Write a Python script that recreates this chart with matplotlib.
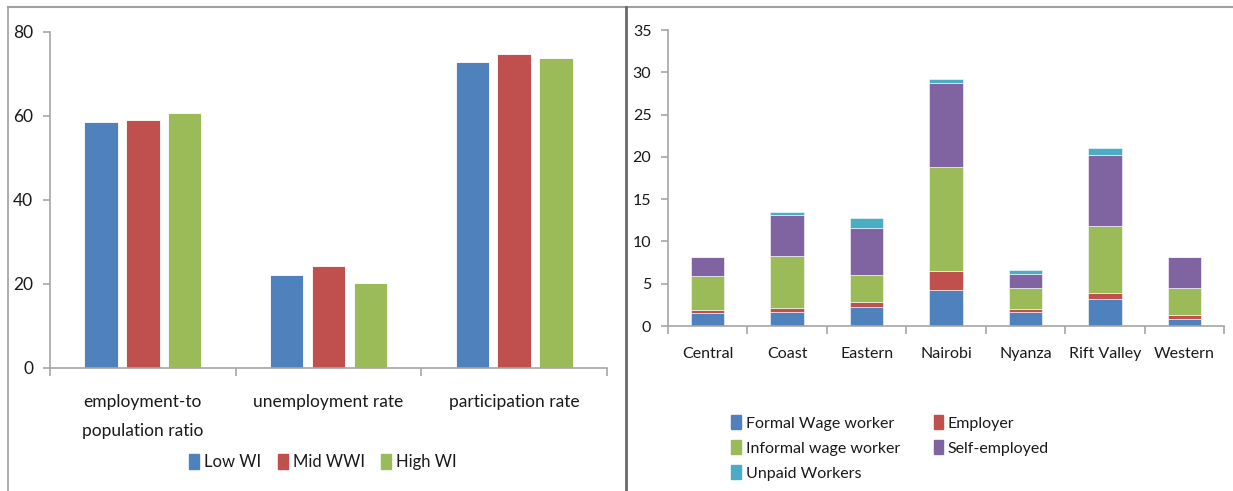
import matplotlib
matplotlib.use("Agg")
import matplotlib.pyplot as plt
import numpy as np
from matplotlib.lines import Line2D
from matplotlib.patches import Patch

plt.rcParams['font.family'] = ['Lato', 'DejaVu Sans']

# Labour market indicators by wealth index group
indicators = ["employment-to\npopulation ratio", "unemployment rate", "participation rate"]
wealth_groups = ["Low WI", "Mid WWI", "High WI"]
low_wi = [58.5, 22.2, 72.9]
mid_wi = [59.1, 24.4, 74.7]
high_wi = [60.6, 20.2, 73.9]

# Employment status by province (stacked)
provinces = ["Central", "Coast", "Eastern", "Nairobi", "Nyanza", "Rift Valley", "Western"]
formal_wage = [1.5, 1.65, 2.2, 4.25, 1.65, 3.25, 0.8]
employer = [0.4, 0.5, 0.65, 2.3, 0.35, 0.6, 0.5]
informal_wage = [4.0, 6.15, 3.15, 12.2, 2.55, 8.0, 3.15]
self_employed = [2.2, 4.8, 5.6, 9.95, 1.55, 8.35, 3.65]
unpaid = [0.08, 0.35, 1.2, 0.5, 0.55, 0.8, 0.1]

BLUE, RED, GREEN, PURPLE, CYAN = "#4F81BD", "#C0504D", "#9BBB59", "#8064A2", "#4BACC6"
AXIS_C = "#a6a6a6"
TEXT_C = "#1a1a1a"

W, H = 1233, 491
fig = plt.figure(figsize=(W / 100, H / 100), dpi=100)


def px_axes(x0, y0, x1, y1):
    return fig.add_axes([x0 / W, 1 - y1 / H, (x1 - x0) / W, (y1 - y0) / H])


def style(ax):
    for s in ("top", "right"):
        ax.spines[s].set_visible(False)
    for s in ("left", "bottom"):
        ax.spines[s].set_color(AXIS_C)
        ax.spines[s].set_linewidth(1.2)
    ax.tick_params(axis="y", colors=AXIS_C, length=5, width=1.2, labelcolor=TEXT_C)
    ax.tick_params(axis="x", which="minor", colors=AXIS_C, length=6, width=1.2)
    ax.tick_params(axis="x", which="major", length=0, labelcolor=TEXT_C)


# ---- left panel: grouped bars ----
ax1 = px_axes(50, 32, 607, 368)
x = np.arange(len(indicators))
bw = 0.18
step = 0.225
for i, (vals, col) in enumerate(zip([low_wi, mid_wi, high_wi], [BLUE, RED, GREEN])):
    ax1.bar(x + (i - 1) * step, vals, bw, color=col, label=wealth_groups[i],
            edgecolor="white", linewidth=0.6)
ax1.set_xlim(-0.5, len(indicators) - 0.5)
ax1.set_ylim(0, 80)
ax1.set_yticks([0, 20, 40, 60, 80])
ax1.set_xticks(x)
ax1.set_xticklabels(indicators, fontsize=12.5, linespacing=1.95)
ax1.set_xticks(np.arange(len(indicators) + 1) - 0.5, minor=True)
style(ax1)
ax1.tick_params(axis="x", which="major", pad=19)
ax1.tick_params(axis="y", labelsize=12.5, pad=7)

fig.legend(handles=[Patch(color=c, label=l) for c, l in zip([BLUE, RED, GREEN], wealth_groups)],
           loc="center", bbox_to_anchor=(323 / W, 1 - 462 / H), ncol=3, frameon=False,
           fontsize=12, handlelength=0.6, handleheight=1.0, handletextpad=0.3,
           columnspacing=1.0, labelcolor=TEXT_C)

# ---- right panel: stacked bars ----
ax2 = px_axes(668, 30, 1224, 326)
xp = np.arange(len(provinces))
series = [
    ("Formal Wage worker", formal_wage, BLUE),
    ("Employer", employer, RED),
    ("Informal wage worker", informal_wage, GREEN),
    ("Self-employed", self_employed, PURPLE),
    ("Unpaid Workers", unpaid, CYAN),
]
bottom = np.zeros(len(provinces))
for name, vals, col in series:
    ax2.bar(xp, vals, 0.42, bottom=bottom, color=col, label=name,
            edgecolor="white", linewidth=0.4)
    bottom += np.array(vals)
ax2.set_xlim(-0.5, len(provinces) - 0.5)
ax2.set_ylim(0, 35)
ax2.set_yticks(np.arange(0, 36, 5))
ax2.set_xticks(xp)
ax2.set_xticklabels(provinces, fontsize=11.5)
ax2.set_xticks(np.arange(len(provinces) + 1) - 0.5, minor=True)
style(ax2)
ax2.tick_params(axis="x", which="major", pad=15)
ax2.tick_params(axis="y", labelsize=11.5, pad=7)

order = [0, 2, 4, 1, 3]
handles = [Patch(color=series[k][2], label=series[k][0]) for k in order]
fig.legend(handles=handles, loc="upper left", bbox_to_anchor=(717 / W, 1 - 401 / H), ncol=2,
           frameon=False, fontsize=11.5, handlelength=0.6, handleheight=0.9,
           handletextpad=0.3, columnspacing=2.1, labelspacing=0.62, labelcolor=TEXT_C)

# ---- panel frame lines ----
fig.add_artist(Line2D([8 / W, 1], [1 - 7 / H, 1 - 7 / H], transform=fig.transFigure,
                      color="#a0a0a0", lw=1.5))
fig.add_artist(Line2D([8 / W, 8 / W], [0, 1 - 7 / H], transform=fig.transFigure,
                      color="#a0a0a0", lw=1.2))
fig.add_artist(Line2D([626 / W, 626 / W], [0, 1 - 7 / H], transform=fig.transFigure,
                      color="#6a6a6a", lw=2.0))

fig.savefig("out.png", dpi=100)
